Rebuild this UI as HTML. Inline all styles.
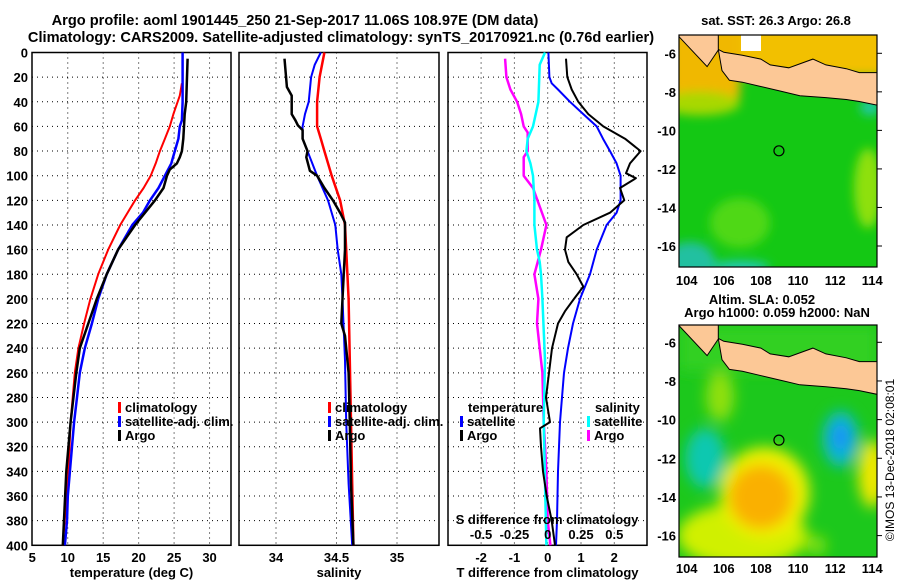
<!DOCTYPE html>
<html><head><meta charset="utf-8"><style>
html,body{margin:0;padding:0;background:#fff;}
svg{display:block;font-family:"Liberation Sans",sans-serif;font-weight:bold;}
</style></head><body>
<svg id="c" width="900" height="580" viewBox="0 0 900 580" xmlns="http://www.w3.org/2000/svg">
<defs>
<filter id="bl" x="-50%" y="-50%" width="200%" height="200%"><feGaussianBlur stdDeviation="7"/></filter>
<filter id="bl2" x="-50%" y="-50%" width="200%" height="200%"><feGaussianBlur stdDeviation="5"/></filter>
<clipPath id="cm1"><rect x="679" y="35" width="198" height="232"/></clipPath>
<clipPath id="cm2"><rect x="679" y="325" width="198" height="232"/></clipPath>
</defs>
<text x="295" y="25" text-anchor="middle" font-size="14.6">Argo profile: aoml 1901445_250 21-Sep-2017 11.06S 108.97E (DM data)</text>
<text x="341" y="42" text-anchor="middle" font-size="14.6">Climatology: CARS2009. Satellite-adjusted climatology: synTS_20170921.nc (0.76d earlier)</text>
<g id="plots"></g>
<g id="maps"></g>
</svg>
<script>
// ---- data ----
const depthTicks=[0,20,40,60,80,100,120,140,160,180,200,220,240,260,280,300,320,340,360,380,400];
const tTicks=[5,10,15,20,25,30];
const sTicks=[34,34.5,35];
const dTTicks=[-2,-1,0,1,2];
const dSTicks=[-0.5,-0.25,0,0.25,0.5];
const dSTickLabels=["-0.5","-0.25","0","0.25","0.5"];

const tClimDepth=[25,35,50,60,70,80,90,100,110,120,140,160,180,200,220,240,260,300,340,400];
const tClim=[26.1,25.8,24.9,24.4,23.7,23.0,22.4,21.7,20.7,19.5,17.4,15.7,14.3,13.2,12.3,11.5,11.0,10.4,10.1,9.3];
const tSatDepth=[0,40,55,60,70,80,90,100,110,120,130,140,160,180,200,220,240,260,280,300,320,340,360,380,400];
const tSat=[26.2,26.2,26.1,25.8,25.6,25.1,24.6,23.7,22.8,21.6,20.6,19.1,17.1,15.5,14.3,13.4,12.4,11.7,11.3,10.9,10.6,10.3,10.0,9.9,9.6];
const tArgoDepth=[5,40,50,70,80,85,90,95,100,110,120,130,140,160,180,200,220,240,260,300,340,400];
const tArgo=[26.9,26.7,26.5,26.3,26.1,25.8,25.4,24.4,24.0,23.5,22.3,20.9,19.5,17.1,15.5,14.1,12.9,11.7,11.2,10.4,9.8,9.3];

const sClimDepth=[0,20,40,60,70,80,100,120,140,160,180,200,250,300,350,400];
const sClim=[34.40,34.36,34.34,34.34,34.37,34.40,34.46,34.53,34.57,34.58,34.59,34.60,34.61,34.62,34.63,34.64];
const sSatDepth=[0,10,20,40,50,60,70,80,100,120,140,160,180,200,250,300,350,400];
const sSat=[34.37,34.32,34.29,34.27,34.24,34.22,34.22,34.26,34.34,34.43,34.49,34.51,34.54,34.55,34.57,34.58,34.60,34.63];
const sArgoDepth=[5,28,35,50,55,59,63,70,80,85,96,100,110,120,130,138,160,200,220,230,260,300,350,400];
const sArgo=[34.07,34.09,34.13,34.13,34.16,34.18,34.22,34.22,34.26,34.25,34.28,34.34,34.40,34.47,34.53,34.57,34.57,34.55,34.54,34.57,34.60,34.61,34.62,34.64];

const dTSatDepth=[0,20,25,30,40,50,60,70,80,90,100,120,130,140,160,180,200,220,240,260,300,340,380,400];
const dTSat=[0.02,0.05,0.12,0.31,0.67,1.07,1.47,1.66,1.87,2.07,2.19,2.19,2.07,1.77,1.47,1.27,0.97,0.76,0.61,0.49,0.37,0.31,0.28,0.25];
const dTArgoDepth=[5,20,30,40,50,60,70,80,90,98,102,110,120,130,140,150,160,170,180,190,200,210,220,240,260,280,300,305,320,340,360,380,400];
const dTArgo=[0.55,0.59,0.72,0.92,1.22,1.67,2.32,2.79,2.47,2.35,2.65,2.17,2.30,1.87,1.07,0.57,0.52,0.62,0.87,1.07,0.79,0.52,0.31,0.13,0.04,-0.05,0.07,-0.23,-0.2,-0.14,-0.03,0.12,0.22];
const dSSatDepth=[0,10,40,60,70,80,90,100,120,140,160,170,180,200,250,300,400];
const dSSat=[-0.02,-0.06,-0.07,-0.11,-0.15,-0.16,-0.13,-0.11,-0.10,-0.10,-0.08,-0.06,-0.05,-0.04,-0.02,-0.03,-0.01];
const dSArgoDepth=[5,20,30,40,50,60,65,80,85,100,110,125,140,160,180,200,220,240,260,300,340,380,400];
const dSArgo=[-0.32,-0.31,-0.28,-0.23,-0.20,-0.18,-0.15,-0.15,-0.18,-0.18,-0.11,-0.06,-0.01,-0.05,-0.10,-0.07,-0.08,-0.06,-0.04,-0.03,-0.01,0.00,0.02];

const mapLatTicks=[-6,-8,-10,-12,-14,-16];
const mapLonTicks=[104,106,108,110,112,114];
const floatLon=108.97, floatLat=-11.06;
const javaLon=[105.7,106.0,107.0,108.0,108.5,109.5,110.8,111.5,112.6,113.3,114.3,114.3,113.3,112.6,111.5,110.1,109.0,107.9,107.0,106.3,105.9];
const javaLat=[-5.8,-5.95,-6.1,-6.3,-6.6,-6.75,-6.3,-6.6,-6.8,-7.0,-7.0,-8.7,-8.5,-8.4,-8.3,-8.2,-7.95,-7.7,-7.5,-7.4,-6.9];
const sumLon=[103.5,105.7,105.7,105.1,103.5];
const sumLat=[-5.0,-5.0,-5.83,-6.69,-5.05];

// ---- axes ----
const y=d=>52.5+d*1.232;
const xT=t=>32.3+(t-5)*7.09;
const xS=s=>276+(s-34)*121;
const xD=t=>547.7+t*33.3;
const xDS=s=>547.7+s*133.2;
const mx=lon=>686.7+(lon-104)*18.56;
const my1=lat=>53.3+(-6-lat)*19.27;
const my2=lat=>342.3+(-6-lat)*19.33;

const NS="http://www.w3.org/2000/svg";
function mk(tag,attrs,parent){const e=document.createElementNS(NS,tag);for(const k in attrs)e.setAttribute(k,attrs[k]);parent.appendChild(e);return e;}
const P=document.getElementById('plots');
const M=document.getElementById('maps');

function panel(name,x0,x1,xticks,xf,labels,xtitle,showDepth){
  const g=mk('g',{},P);
  
  
  for(const d of depthTicks){
    if(d>0&&d<400){const l=mk('line',{x1:x0,x2:x1,y1:y(d),y2:y(d),stroke:'#000','stroke-width':1,'stroke-dasharray':'1,4'},g);
    
    }
    if(showDepth){const t=mk('text',{x:28,y:y(d)+5,'text-anchor':'end','font-size':13},g);t.textContent=d;
    
    }
  }
  xticks.forEach((v,i)=>{
    const X=xf(v);
    if(X>x0+2&&X<x1-2){const l=mk('line',{x1:X,x2:X,y1:y(0),y2:y(400),stroke:'#000','stroke-width':1,'stroke-dasharray':'1,4'},g);
    
    }
    const t=mk('text',{x:X,y:562,'text-anchor':'middle','font-size':13},g);t.textContent=labels?labels[i]:v;
    
    
  });
  const r=mk('rect',{x:x0,y:y(0),width:x1-x0,height:y(400)-y(0),fill:'none',stroke:'#000','stroke-width':1.5},g);
  
  
  const tt=mk('text',{x:(x0+x1)/2,y:577,'text-anchor':'middle','font-size':13},g);tt.textContent=xtitle;
  
  
  return g;
}
function series(g,name,vals,depths,xf,color,w){
  const pts=vals.map((v,i)=>xf(v).toFixed(1)+','+y(depths[i]).toFixed(1)).join(' ');
  const p=mk('polyline',{points:pts,fill:'none',stroke:color,'stroke-width':w,'stroke-linejoin':'round'},g);
  
  
}
function leg(g,x,yy,color,label,name){
  const b=mk('rect',{x:x,y:yy-10,width:3,height:11,fill:color},g);
  
  
  const t=mk('text',{x:x+7,y:yy,'font-size':13},g);t.textContent=label;
  
  
}

const g1=panel('temperature-panel',32,231,tTicks,xT,null,'temperature (deg C)',true);
series(g1,'temperature-climatology-line',tClim,tClimDepth,xT,'#f00',2);
series(g1,'temperature-satellite-line',tSat,tSatDepth,xT,'#00f',2.5);
series(g1,'temperature-argo-line',tArgo,tArgoDepth,xT,'#000',2.5);
leg(g1,118,412,'#f00','climatology','legend-climatology');
leg(g1,118,426,'#00f','satellite-adj. clim.','legend-satellite');
leg(g1,118,440,'#000','Argo','legend-argo');

const g2=panel('salinity-panel',239,439,sTicks,xS,null,'salinity',false);
series(g2,'salinity-climatology-line',sClim,sClimDepth,xS,'#f00',2.5);
series(g2,'salinity-satellite-line',sSat,sSatDepth,xS,'#00f',2);
series(g2,'salinity-argo-line',sArgo,sArgoDepth,xS,'#000',2.5);
leg(g2,328,412,'#f00','climatology','legend-climatology');
leg(g2,328,426,'#00f','satellite-adj. clim.','legend-satellite');
leg(g2,328,440,'#000','Argo','legend-argo');

const g3=panel('difference-panel',448,647,dTTicks,xD,null,'T difference from climatology',false);
series(g3,'s-diff-argo-line',dSArgo,dSArgoDepth,xDS,'#f0f',2.5);
series(g3,'s-diff-satellite-line',dSSat,dSSatDepth,xDS,'#0ff',2.5);
series(g3,'t-diff-satellite-line',dTSat,dTSatDepth,xD,'#00f',2);
series(g3,'t-diff-argo-line',dTArgo,dTArgoDepth,xD,'#000',2);
{const t=mk('text',{x:468,y:412,'font-size':13},g3);t.textContent='temperature';


const t2=mk('text',{x:595,y:412,'font-size':13},g3);t2.textContent='salinity';

}
leg(g3,460,426,'#00f','satellite','legend-t-satellite');
leg(g3,460,440,'#000','Argo','legend-t-argo');
leg(g3,587,426,'#0ff','satellite','legend-s-satellite');
leg(g3,587,440,'#f0f','Argo','legend-s-argo');
{const t=mk('text',{x:547,y:524,'text-anchor':'middle','font-size':13},g3);t.textContent='S difference from climatology';


dSTicks.forEach((v,i)=>{const s=mk('text',{x:xDS(v),y:539,'text-anchor':'middle','font-size':13},g3);s.textContent=dSTickLabels[i];

});}

// ---- maps ----
function poly(lons,lats,myf){return lons.map((l,i)=>mx(l).toFixed(1)+','+myf(lats[i]).toFixed(1)).join(' ');}
function mapAxes(g,top,bottom,myf,lonY){
  for(const la of mapLatTicks){const t=mk('text',{x:676,y:myf(la)+5,'text-anchor':'end','font-size':13},g);t.textContent=la;
  
  
  mk('line',{x1:877,x2:882,y1:myf(la),y2:myf(la),stroke:'#000'},g);}
  for(const lo of mapLonTicks){const t=mk('text',{x:mx(lo),y:lonY,'text-anchor':'middle','font-size':13},g);t.textContent=lo;
  
  }
  const r=mk('rect',{x:679,y:top,width:198,height:bottom-top,fill:'none',stroke:'#000','stroke-width':1.2},g);
  
  
}
// map 1 (SST)
const m1=mk('g',{},M);


{const c=mk('g',{'clip-path':'url(#cm1)'},m1);
mk('rect',{x:679,y:35,width:198,height:232,fill:'#14c814'},c);
const b=mk('g',{filter:'url(#bl2)'},c);
mk('rect',{x:670,y:20,width:220,height:my1(-7.2)-20,fill:'#f2c000'},b);
mk('rect',{x:670,y:20,width:70,height:my1(-8.3)-20,fill:'#f0b800'},b);
mk('ellipse',{cx:700,cy:my1(-8.6),rx:40,ry:12,fill:'#a8d800'},b);
mk('ellipse',{cx:868,cy:my1(-13),rx:14,ry:40,fill:'#8ee010'},b);
mk('ellipse',{cx:740,cy:my1(-14.8),rx:30,ry:25,fill:'#50d818'},b);
mk('ellipse',{cx:690,cy:262,rx:25,ry:20,fill:'#20c0a0'},b);
mk('ellipse',{cx:740,cy:267,rx:30,ry:6,fill:'#20c8c0'},b);
mk('ellipse',{cx:870,cy:my1(-8.8),rx:10,ry:8,fill:'#20c8a8'},b);
mk('rect',{x:741,y:35,width:20,height:16,fill:'#fff'},c);
const j=mk('polygon',{points:poly(javaLon,javaLat,my1),fill:'#fcc896',stroke:'#000','stroke-width':1},c);


mk('polygon',{points:poly(sumLon,sumLat,my1),fill:'#fcc896',stroke:'#000','stroke-width':1},c);
const f=mk('circle',{cx:mx(floatLon),cy:my1(floatLat),r:5,fill:'none',stroke:'#000','stroke-width':1.2},c);

}
mapAxes(m1,35,267,my1,285);
{const t=mk('text',{x:776,y:25,'text-anchor':'middle','font-size':13},m1);t.textContent='sat. SST: 26.3 Argo: 26.8';

}

// map 2 (SLA)
const m2=mk('g',{},M);


{const c=mk('g',{'clip-path':'url(#cm2)'},m2);
mk('rect',{x:679,y:325,width:198,height:232,fill:'#1cc81c'},c);
const b=mk('g',{filter:'url(#bl)'},c);
mk('rect',{x:679,y:325,width:198,height:my2(-7.5)-325,fill:'#30d020'},b);
mk('ellipse',{cx:mx(105.8),cy:my2(-8.8),rx:14,ry:25,fill:'#90e010'},b);
mk('ellipse',{cx:mx(105),cy:my2(-12),rx:20,ry:30,fill:'#10c8b0'},b);
mk('ellipse',{cx:mx(112.3),cy:my2(-11),rx:18,ry:28,fill:'#10b8d0'},b);
mk('ellipse',{cx:mx(112.3),cy:my2(-10.9),rx:9,ry:13,fill:'#1890f8'},b);
mk('ellipse',{cx:mx(107),cy:my2(-16),rx:65,ry:32,fill:'#d0f000'},b);
mk('ellipse',{cx:mx(108.2),cy:my2(-13.8),rx:45,ry:46,fill:'#eef000'},b);
mk('ellipse',{cx:mx(108),cy:my2(-14),rx:32,ry:32,fill:'#fab000'},b);
mk('ellipse',{cx:mx(114),cy:my2(-12.8),rx:14,ry:34,fill:'#f0e800'},b);
mk('ellipse',{cx:mx(111),cy:my2(-16.5),rx:10,ry:10,fill:'#80e010'},b);
const j=mk('polygon',{points:poly(javaLon,javaLat,my2),fill:'#fcc896',stroke:'#000','stroke-width':1},c);


mk('polygon',{points:poly(sumLon,sumLat,my2),fill:'#fcc896',stroke:'#000','stroke-width':1},c);
const f=mk('circle',{cx:mx(floatLon),cy:my2(floatLat),r:5,fill:'none',stroke:'#000','stroke-width':1.2},c);

}
mapAxes(m2,325,557,my2,573);
{const t=mk('text',{x:762,y:304,'text-anchor':'middle','font-size':13},m2);t.textContent='Altim. SLA: 0.052';


const t2=mk('text',{x:777,y:317,'text-anchor':'middle','font-size':13},m2);t2.textContent='Argo h1000: 0.059 h2000: NaN';


const t3=mk('text',{x:894,y:460,'text-anchor':'middle','font-size':12,'font-weight':'normal',transform:'rotate(-90 894 460)'},M);t3.textContent='©IMOS 13-Dec-2018 02:08:01';

}
</script>
</body></html>
